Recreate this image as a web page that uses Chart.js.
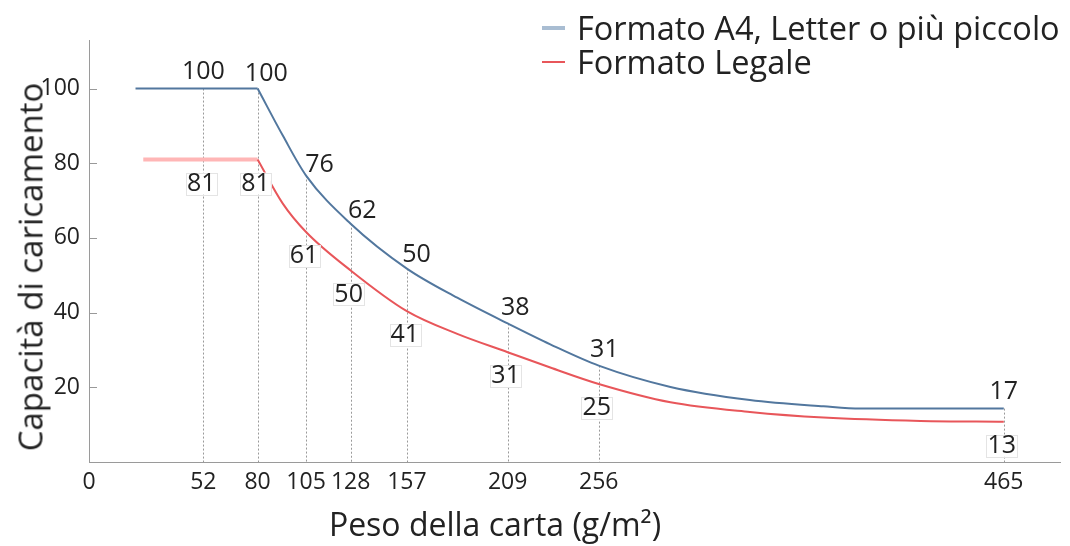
<!DOCTYPE html>
<html><head><meta charset="utf-8">
<script src="https://cdn.jsdelivr.net/npm/chart.js@4.4.1/dist/chart.umd.min.js"></script>
<style>
html,body{margin:0;padding:0;background:#fff;}
#wrap{position:relative;width:1070px;height:546px;}
#legend{position:absolute;left:542px;top:11px;font-family:'Open Sans',sans-serif;font-size:32.5px;color:#222;line-height:34px}
.item{display:flex;align-items:center;white-space:nowrap}
.sw{display:inline-block;width:23px;margin-right:12px}
.ttl{position:absolute;font-family:'Open Sans',sans-serif;color:#222;white-space:nowrap;line-height:1}
#xt{font-size:32px;left:495px;top:524px;transform:translate(-50%,-50%);}
#yt{font-size:33px;left:30px;top:267px;transform:translate(-50%,-50%) rotate(-90deg);}
</style></head>
<body><div id="wrap"><canvas id="c" width="1070" height="546"></canvas>
<div id="legend"></div>
<div class="ttl" id="xt"></div>
<div class="ttl" id="yt"></div>
</div>
<script>
const seriesNames = ['Formato A4, Letter o più piccolo', 'Formato Legale'];
const xTitle = 'Peso della carta (g/m²)';
const yTitle = 'Capacità di caricamento';
// curves (x = paper weight, y = capacity)
const a4X = [17, 52, 80, 93, 105, 128, 157, 183, 209, 231, 256, 293, 334, 372, 391, 465];
const a4Y = [100, 100, 100, 87.4, 76.7, 63.8, 51.8, 44.0, 37.1, 31.5, 25.8, 20.1, 16.6, 14.9, 14.3, 14.3];
const legalX = [21, 52, 80, 93, 105, 128, 157, 183, 209, 231, 256, 293, 334, 372, 422, 465];
const legalY = [81, 81, 81, 69.2, 61.6, 51.3, 40.4, 34.3, 29.4, 25.3, 20.9, 16.0, 13.4, 11.9, 11.0, 10.8];
const KNEE = 80;
// labelled weights and printed values
const markedWeights = [52, 80, 105, 128, 157, 209, 256, 465];
const a4Labels = ['100', '100', '76', '62', '50', '38', '31', '17'];
const legalLabels = ['81', '81', '61', '50', '41', '31', '25', '13'];
const X_MIN = -7, X_MAX = 494, Y_MIN = 0, Y_MAX = 113;
const xTickValues = [X_MIN, 52, 80, 105, 128, 157, 209, 256, 465];
const xTickLabels = ['0', '52', '80', '105', '128', '157', '209', '256', '465'];
const yTickValues = [20, 40, 60, 80, 100];

const A4_COLOR = '#52779e', A4_LEGEND = '#a9bdd2';
const LEGAL_COLOR = '#e8565a', LEGAL_FLAT = '#ffb6b6';
const FONT = "'Open Sans', sans-serif";

function pts(xs, ys, pred) {
  const out = [];
  xs.forEach((v, i) => { if (pred(v)) out.push({x: v, y: ys[i]}); });
  return out;
}

document.getElementById('xt').textContent = xTitle;
document.getElementById('yt').textContent = yTitle;
// legend (HTML)
const legendEl = document.getElementById('legend');
[[seriesNames[0], A4_LEGEND, 4], [seriesNames[1], LEGAL_COLOR, 2]].forEach(([t, c, w]) => {
  const d = document.createElement('div'); d.className = 'item';
  const s = document.createElement('span'); s.className = 'sw';
  s.style.height = w + 'px'; s.style.background = c;
  const tx = document.createElement('span'); tx.textContent = t;
  d.appendChild(s); d.appendChild(tx); legendEl.appendChild(d);
});

const annot = {
  id: 'annot',
  beforeDatasetsDraw(chart) {
    const {ctx, chartArea, scales: {x, y}} = chart;
    ctx.save();
    ctx.strokeStyle = '#9a9a9a'; ctx.lineWidth = 1; ctx.setLineDash([2, 2]);
    markedWeights.forEach(w => {
      const px = Math.round(x.getPixelForValue(w)) + 0.5;
      const py = y.getPixelForValue(a4Y[a4X.indexOf(w)]);
      ctx.beginPath(); ctx.moveTo(px, py); ctx.lineTo(px, chartArea.bottom); ctx.stroke();
    });
    ctx.restore();
  },
  afterDatasetsDraw(chart) {
    const {ctx, scales: {x, y}} = chart;
    ctx.save();
    ctx.font = '25px ' + FONT;
    ctx.textAlign = 'center'; ctx.textBaseline = 'middle';
    markedWeights.forEach((w, k) => {
      // A4 labels: above the curve, along its normal
      const i = a4X.indexOf(w);
      const i1 = Math.max(0, i - 1), i2 = Math.min(a4X.length - 1, i + 1);
      const x1 = x.getPixelForValue(a4X[i1]), y1 = y.getPixelForValue(a4Y[i1]);
      const x2 = x.getPixelForValue(a4X[i2]), y2 = y.getPixelForValue(a4Y[i2]);
      let tx = x2 - x1, ty = y2 - y1; const L = Math.hypot(tx, ty) || 1; tx /= L; ty /= L;
      const px = x.getPixelForValue(w), py = y.getPixelForValue(a4Y[i]);
      const lx = px + ty * 17, ly = py - tx * 17;
      ctx.fillStyle = '#222';
      ctx.fillText(a4Labels[k], lx, ly);
      // Legal labels: below the curve, boxed
      const j = legalX.indexOf(w);
      const qx = x.getPixelForValue(w) - 2, qy = y.getPixelForValue(legalY[j]) + 24;
      const tw = ctx.measureText(legalLabels[k]).width;
      ctx.fillStyle = '#fff';
      ctx.fillRect(qx - tw / 2 - 1, qy - 11, tw + 2, 22);
      ctx.strokeStyle = '#e4e4e4'; ctx.lineWidth = 1;
      ctx.strokeRect(Math.round(qx - tw / 2 - 1) + 0.5, Math.round(qy - 11) + 0.5, Math.round(tw + 2), 22);
      ctx.fillStyle = '#222';
      ctx.fillText(legalLabels[k], qx, qy);
    });
    ctx.restore();
  },
  afterDraw(chart) {
    const {ctx, scales: {x, y}} = chart;
    ctx.save();
    ctx.strokeStyle = '#999'; ctx.lineWidth = 1;
    yTickValues.forEach(v => {
      const py = Math.round(y.getPixelForValue(v)) + 0.5;
      ctx.beginPath(); ctx.moveTo(x.left, py); ctx.lineTo(x.left + 8, py); ctx.stroke();
    });
    ctx.restore();
  }
};

new Chart(document.getElementById('c'), {
  type: 'line',
  data: {
    datasets: [
      {label: seriesNames[0], data: pts(a4X, a4Y, v => v >= KNEE), borderColor: A4_COLOR, borderWidth: 2,
       cubicInterpolationMode: 'monotone', pointRadius: 0, fill: false},
      {label: seriesNames[0], data: pts(a4X, a4Y, v => v <= KNEE), borderColor: A4_COLOR, borderWidth: 2,
       tension: 0, pointRadius: 0, fill: false},
      {label: seriesNames[1], data: pts(legalX, legalY, v => v >= KNEE), borderColor: LEGAL_COLOR, borderWidth: 2,
       cubicInterpolationMode: 'monotone', pointRadius: 0, fill: false},
      {label: seriesNames[1], data: pts(legalX, legalY, v => v <= KNEE), borderColor: LEGAL_FLAT, borderWidth: 4,
       tension: 0, pointRadius: 0, fill: false}
    ]
  },
  options: {
    responsive: false, animation: false, devicePixelRatio: 1,
    layout: {padding: {top: 40, right: 10, left: 0, bottom: 0}},
    plugins: {legend: {display: false}, tooltip: {enabled: false}},
    scales: {
      x: {
        type: 'linear', min: X_MIN, max: X_MAX,
        grid: {display: false, drawTicks: false},
        border: {display: true, color: '#9a9a9a', width: 1},
        afterBuildTicks: s => { s.ticks = xTickValues.map(v => ({value: v})); },
        afterFit: s => { s.height = 84; },
        ticks: {autoSkip: false, maxRotation: 0, padding: 7, color: '#222',
                font: {family: FONT, size: 23},
                callback: (v, i) => xTickLabels[i]},
        title: {display: false}
      },
      y: {
        min: Y_MIN, max: Y_MAX,
        grid: {display: false, drawTicks: false},
        border: {display: true, color: '#9a9a9a', width: 1},
        afterBuildTicks: s => { s.ticks = yTickValues.map(v => ({value: v})); },
        afterFit: s => { s.width = 89; },
        ticks: {padding: 9, color: '#222', font: {family: FONT, size: 23}},
        title: {display: false}
      }
    }
  },
  plugins: [annot]
});
</script>
</body></html>
